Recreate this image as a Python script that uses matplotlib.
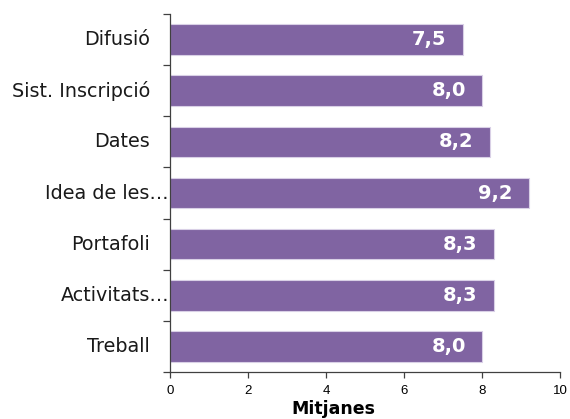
import matplotlib
matplotlib.use("Agg")
import matplotlib.pyplot as plt
from matplotlib.transforms import blended_transform_factory, offset_copy

categories = ["Difusió", "Sist. Inscripció", "Dates", "Idea de les…", "Portafoli", "Activitats…", "Treball"]
values = [7.5, 8.0, 8.2, 9.2, 8.3, 8.3, 8.0]
value_labels = ["7,5", "8,0", "8,2", "9,2", "8,3", "8,3", "8,0"]
truncated = [False, False, False, True, False, True, False]
xticks = [0, 2, 4, 6, 8, 10]

fig = plt.figure(figsize=(5.70, 4.19), dpi=100)
ax = fig.add_axes([170/570, 1-372/419, 390/570, 358/419])

ys = list(range(len(categories)))
ax.barh(ys, values, height=0.6, color="#8064A2", edgecolor="#D9D0E6", linewidth=0.8)
ax.set_ylim(len(categories)-0.5, -0.5)
ax.set_xlim(0, 10)

for sp in ["top", "right"]:
    ax.spines[sp].set_visible(False)
for sp in ["left", "bottom"]:
    ax.spines[sp].set_color("#404040")
    ax.spines[sp].set_linewidth(0.9)

ax.set_xticks(xticks)
ax.set_xticklabels([str(t) for t in xticks], fontsize=9.5, family="Liberation Sans")
ax.tick_params(axis="x", direction="out", length=4, width=0.9, color="#404040", pad=5.5)

ax.set_yticks([i - 0.5 for i in range(len(categories)+1)])
ax.set_yticklabels([])
ax.tick_params(axis="y", direction="out", length=5, width=0.9, color="#404040")

trans = blended_transform_factory(ax.transAxes, ax.transData)
for y, c, t in zip(ys, categories, truncated):
    off = -1 if t else -20
    tr = offset_copy(trans, fig=fig, x=off*72/100, y=0, units="points")
    ax.text(0, y, c, transform=tr, ha="right", va="center", fontsize=13.8,
            family="DejaVu Sans", color="#1a1a1a")

for y, v, lab in zip(ys, values, value_labels):
    ax.annotate(lab, (v, y), xytext=(-11.5, 0), textcoords="offset points",
                ha="right", va="center", color="white", fontsize=14,
                fontweight="bold", family="DejaVu Sans")

fig.text(333/570, 1-409/419, "Mitjanes", ha="center", va="center",
         fontsize=12.5, fontweight="bold", family="DejaVu Sans", color="black")

fig.savefig("out.png", dpi=100)
